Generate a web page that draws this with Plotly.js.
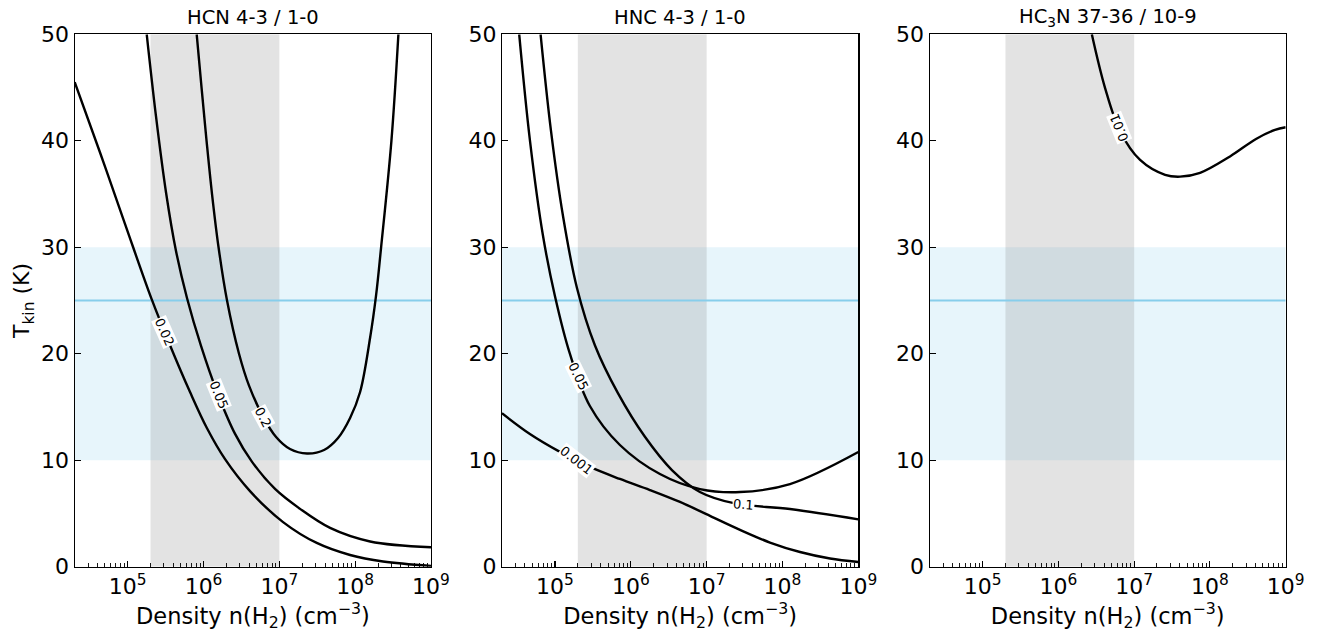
<!DOCTYPE html>
<html>
<head>
<meta charset="utf-8">
<script src="https://cdn.plot.ly/plotly-3.0.1.min.js"></script>
<style>html,body{margin:0;padding:0;background:#fff;}#chart{width:1317px;height:633px;}</style>
</head>
<body>
<div id="chart"></div>
<script>
// ---------- DATA (log10 density n(H2) in cm^-3, T_kin in K) ----------
const panelTitles = ["HCN 4-3 / 1-0", "HNC 4-3 / 1-0", "HC<sub>3</sub>N 37-36 / 10-9"];
const xTickVals = [1e5, 1e6, 1e7, 1e8, 1e9];
const xTickText = ["10<sup>5</sup>", "10<sup>6</sup>", "10<sup>7</sup>", "10<sup>8</sup>", "10<sup>9</sup>"];
const yTickVals = [0, 10, 20, 30, 40, 50];
const densityBand = [2e5, 1e7];
const tempBand = [10, 30];
const tempLine = 25;

// HCN 4-3/1-0
const hcn002_logn = [4.301, 4.635, 4.964, 5.317, 5.558, 5.822, 6.046, 6.284, 6.613, 7.049, 7.493, 7.933, 8.368, 9.0];
const hcn002_T    = [45.5, 38.9, 32.2, 25.1, 20.8, 16.4, 13.0, 10.1, 7.1, 4.19, 2.23, 1.10, 0.49, 0.08];
const hcn005_logn = [5.251, 5.373, 5.505, 5.637, 5.782, 5.967, 6.178, 6.416, 6.640, 6.943, 7.273, 7.669, 8.197, 9.0];
const hcn005_T    = [50.0, 42.31, 35.17, 29.65, 25.24, 20.73, 16.41, 12.47, 9.84, 7.30, 5.43, 3.64, 2.37, 1.82];
const hcn02_logn  = [5.910, 5.974, 6.040, 6.112, 6.198, 6.310, 6.468, 6.600, 6.785, 6.957, 7.141, 7.365, 7.590, 7.774, 7.933, 8.065, 8.197, 8.276, 8.342, 8.478, 8.570];
const hcn02_T     = [50.0, 45.0, 40.0, 35.0, 30.0, 25.0, 20.0, 17.0, 14.1, 12.18, 11.05, 10.63, 10.96, 12.09, 13.97, 16.41, 21.5, 25.5, 30.0, 40.0, 50.0];

// HNC 4-3/1-0
const hnc005_logn = [4.528, 4.669, 4.840, 4.999, 5.197, 5.460, 5.856, 6.384, 6.912, 7.440, 8.099, 9.0];
const hnc005_T    = [50.0, 40.07, 31.15, 25.42, 19.98, 15.09, 11.43, 8.70, 7.29, 7.01, 7.76, 10.77];
const hnc01_logn  = [4.810, 4.946, 5.104, 5.289, 5.526, 5.830, 6.186, 6.542, 6.911, 7.373, 8.099, 9.0];
const hnc01_T     = [50.0, 41.0, 33.0, 26.2, 20.8, 16.3, 12.2, 9.08, 7.02, 5.94, 5.42, 4.45];
const hnc0001_logn = [4.300, 4.669, 5.065, 5.460, 5.856, 6.252, 6.648, 7.044, 7.440, 7.835, 8.231, 8.627, 9.0];
const hnc0001_T    = [14.41, 12.46, 10.78, 9.37, 8.24, 7.20, 6.08, 4.77, 3.46, 2.27, 1.38, 0.77, 0.44];

// HC3N 37-36/10-9
const hc3n001_logn = [6.441, 6.616, 6.814, 7.078, 7.408, 7.606, 7.870, 8.265, 8.608, 8.859, 9.0];
const hc3n001_T    = [50.0, 44.95, 40.9, 38.2, 36.8, 36.63, 36.99, 38.53, 40.17, 41.02, 41.27];

// contour lines: panel, level label, data, label position (log n), label angle
const contours = [
  {p: 1, label: "0.02",  x: hcn002_logn,  y: hcn002_T,  at: 5.49,  ang: 66},
  {p: 1, label: "0.05",  x: hcn005_logn,  y: hcn005_T,  at: 6.195, ang: 68},
  {p: 1, label: "0.2",   x: hcn02_logn,   y: hcn02_T,   at: 6.79,  ang: 62},
  {p: 2, label: "0.05",  x: hnc005_logn,  y: hnc005_T,  at: 5.31,  ang: 64},
  {p: 2, label: "0.1",   x: hnc01_logn,   y: hnc01_T,   at: 7.48,  ang: 4},
  {p: 2, label: "0.001", x: hnc0001_logn, y: hnc0001_T, at: 5.285, ang: 38},
  {p: 3, label: "0.01",  x: hc3n001_logn, y: hc3n001_T, at: 6.80,  ang: -112}
];

// ---------- BUILD ----------
function interp(xs, ys, x) {
  for (let i = 0; i < xs.length - 1; i++) {
    if (x >= xs[i] && x <= xs[i + 1]) {
      const t = (x - xs[i]) / (xs[i + 1] - xs[i]);
      return ys[i] + t * (ys[i + 1] - ys[i]);
    }
  }
  return ys[ys.length - 1];
}

const W = 1317, H = 633;
const pxDomains = [[74.7, 431], [502, 858.3], [929.7, 1285.7]];
const yDom = [1 - 566.7 / H, 1 - 34.3 / H];
const font = "DejaVu Sans, sans-serif";

const traces = [];
const annotations = [];
const shapes = [];

contours.forEach(c => {
  const sfx = c.p === 1 ? "" : String(c.p);
  traces.push({
    type: "scatter", mode: "lines",
    x: c.x.map(v => Math.pow(10, v)), y: c.y,
    xaxis: "x" + sfx, yaxis: "y" + sfx,
    line: {color: "black", width: 2.4, shape: "spline", smoothing: 1},
    hoverinfo: "skip", showlegend: false
  });
  annotations.push({
    xref: "x" + sfx, yref: "y" + sfx,
    x: c.at, y: interp(c.x, c.y, c.at),
    text: c.label, showarrow: false, textangle: c.ang,
    bgcolor: "white", borderpad: 0,
    font: {family: font, size: 13, color: "black"}
  });
});

const minorVals = [];
for (let e = 4; e <= 8; e++) for (let m = 2; m <= 9; m++) {
  const v = m * Math.pow(10, e);
  if (v >= 2e4 && v <= 1e9) minorVals.push(v);
}

const layout = {
  width: W, height: H,
  margin: {l: 0, r: 0, t: 0, b: 0},
  paper_bgcolor: "white", plot_bgcolor: "white",
  font: {family: font, color: "black"},
  showlegend: false,
  annotations: annotations,
  shapes: shapes
};

for (let p = 1; p <= 3; p++) {
  const sfx = p === 1 ? "" : String(p);
  const d = pxDomains[p - 1];
  layout["xaxis" + sfx] = {
    type: "log", range: [Math.log10(2e4), 9],
    domain: [d[0] / W, d[1] / W], anchor: "y" + sfx,
    tickmode: "array", tickvals: xTickVals, ticktext: xTickText,
    ticks: "inside", ticklen: 6, tickwidth: 1.1, tickcolor: "black",
    minor: {tickmode: "array", tickvals: minorVals, ticks: "inside", ticklen: 3.5, tickwidth: 0.9, tickcolor: "black", showgrid: false},
    showline: true, linecolor: "black", linewidth: 1.2, mirror: true,
    showgrid: false, zeroline: false,
    tickfont: {family: font, size: 22, color: "black"},
    title: {text: "Density n(H<sub>2</sub>) (cm<sup>\u22123</sup>)", font: {family: font, size: 22.5, color: "black"}, standoff: 3},
    automargin: false
  };
  layout["yaxis" + sfx] = {
    range: [0, 50], domain: yDom, anchor: "x" + sfx,
    tickmode: "array", tickvals: yTickVals,
    ticks: "inside", ticklen: 6, tickwidth: 1.1, tickcolor: "black",
    showline: true, linecolor: "black", linewidth: 1.2, mirror: true,
    showgrid: false, zeroline: false,
    tickfont: {family: font, size: 22, color: "black"},
    automargin: false
  };
  if (p === 1) {
    layout.yaxis.title = {text: "T<sub>kin</sub> (K)", font: {family: font, size: 22, color: "black"}, standoff: 5};
  }
  shapes.push({type: "rect", xref: "x" + sfx, yref: "y" + sfx, x0: 2e4, x1: 1e9, y0: tempBand[0], y1: tempBand[1],
    fillcolor: "rgba(135,206,235,0.2)", line: {width: 0}, layer: "below"});
  shapes.push({type: "rect", xref: "x" + sfx, yref: "y" + sfx, x0: densityBand[0], x1: densityBand[1], y0: 0, y1: 50,
    fillcolor: "rgba(128,128,128,0.22)", line: {width: 0}, layer: "below"});
  shapes.push({type: "line", xref: "x" + sfx, yref: "y" + sfx, x0: 2e4, x1: 1e9, y0: tempLine, y1: tempLine,
    line: {color: "#87ceeb", width: 2}, layer: "below"});
  annotations.push({
    xref: "paper", yref: "paper", x: (d[0] + d[1]) / 2 / W, y: 1 - 18 / H,
    xanchor: "center", yanchor: "middle", showarrow: false,
    text: panelTitles[p - 1], font: {family: font, size: 19.5, color: "black"}
  });
}

Plotly.newPlot("chart", traces, layout, {staticPlot: true, displayModeBar: false});
</script>
</body>
</html>
